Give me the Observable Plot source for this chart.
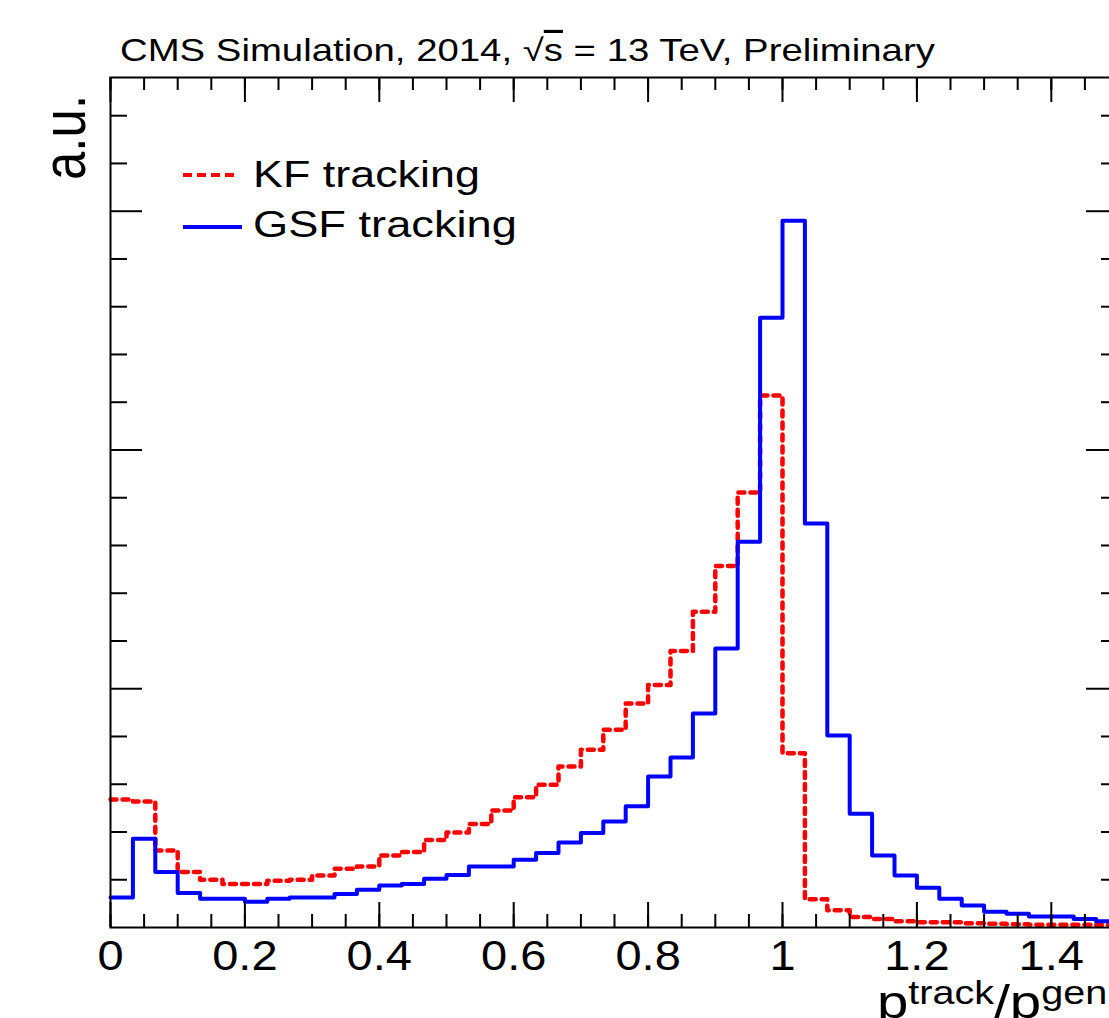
<!DOCTYPE html>
<html>
<head>
<meta charset="utf-8">
<script src="https://cdn.jsdelivr.net/npm/d3@7"></script>
<script src="https://cdn.jsdelivr.net/npm/@observablehq/plot@0.6"></script>
<style>
html, body { margin: 0; padding: 0; overflow: hidden; background: #fff; width: 1109px; height: 1018px; }
</style>
</head>
<body>
<div id="chart"></div>
<script>
// ---- data (arbitrary units) ----
const binWidth = 1 / 30;            // 45 bins over [0, 1.5]
const kfValues = [2.68, 2.64, 1.61, 1.16, 1.00, 0.91, 0.91, 0.98, 1.00, 1.09, 1.23, 1.28, 1.51,
  1.58, 1.83, 1.99, 2.17, 2.45, 2.73, 2.99,
  3.37, 3.72, 4.14, 4.69, 5.08, 5.79, 6.61, 7.57, 9.11, 11.14,
  3.65, 0.59, 0.36, 0.22, 0.18, 0.13, 0.11, 0.11, 0.09, 0.08, 0.07, 0.06, 0.06, 0.06, 0.05];
const gsfValues = [0.63, 1.86, 1.16, 0.72, 0.60, 0.60, 0.54, 0.60, 0.63, 0.63, 0.70, 0.79, 0.88,
  0.91, 1.02, 1.10, 1.28, 1.28, 1.42, 1.56, 1.78, 1.98, 2.22, 2.54,
  3.16, 3.56, 4.48, 5.84, 8.08, 12.77, 14.80, 8.46,
  4.02, 2.38, 1.51, 1.09, 0.83, 0.60, 0.46, 0.33, 0.29, 0.23, 0.23, 0.18, 0.13];
const seriesNames = ["KF tracking", "GSF tracking"];
const xMajorTicks = [0, 0.2, 0.4, 0.6, 0.8, 1.0, 1.2, 1.4];
const xMinorTicks = [0, 0.05, 0.1, 0.15, 0.2, 0.25, 0.3, 0.35, 0.4, 0.45, 0.5, 0.55, 0.6, 0.65, 0.7,
  0.75, 0.8, 0.85, 0.9, 0.95, 1.0, 1.05, 1.1, 1.15, 1.2, 1.25, 1.3, 1.35, 1.4, 1.45, 1.5];
const yMajorTicks = [5, 10, 15];
const yMinorTicks = [1, 2, 3, 4, 6, 7, 8, 9, 11, 12, 13, 14, 16, 17];

const toSteps = vals => vals.map((v, i) => ({x: i * binWidth, y: v}))
  .concat([{x: vals.length * binWidth, y: vals[vals.length - 1]}]);
const kfSteps = toSteps(kfValues);
const gsfSteps = toSteps(gsfValues);

const W = 1128, H = 1018, ML = 110, MR = 10, MT = 77, MB = 91;
const FW = W - ML - MR, FH = H - MT - MB;
const font = "'Liberation Sans', Arial, Helvetica, sans-serif";
const tk = {stroke: "black", strokeWidth: 2};

const plot = Plot.plot({
  width: W, height: H,
  marginLeft: ML, marginRight: MR, marginTop: MT, marginBottom: MB,
  style: {maxWidth: "none", fontFamily: font, fontSize: "42px", color: "black", background: "white", overflow: "visible"},
  x: {domain: [0, 1.5], ticks: xMajorTicks, tickSize: 0, tickPadding: 13, label: null, tickFormat: d => String(d)},
  y: {domain: [0, 17.8], axis: null},
  marks: [
    Plot.line(kfSteps, {x: "x", y: "y", curve: "step-after", stroke: "#ff0000", strokeWidth: 4.5, strokeDasharray: "6,6"}),
    Plot.line(gsfSteps, {x: "x", y: "y", curve: "step-after", stroke: "#0000ff", strokeWidth: 4}),
    // bottom ticks
    Plot.tickX(xMinorTicks, {x: d => d, insetTop: FH - 13, ...tk}),
    Plot.tickX(xMajorTicks, {x: d => d, insetTop: FH - 25, ...tk}),
    // top ticks
    Plot.tickX(xMinorTicks, {x: d => d, insetBottom: FH - 13, ...tk}),
    Plot.tickX(xMajorTicks, {x: d => d, insetBottom: FH - 25, ...tk}),
    // left ticks
    Plot.tickY(yMinorTicks, {y: d => d, insetRight: FW - 17, ...tk}),
    Plot.tickY(yMajorTicks, {y: d => d, insetRight: FW - 32, ...tk}),
    // right ticks
    Plot.tickY(yMinorTicks, {y: d => d, insetLeft: FW - 17, ...tk}),
    Plot.tickY(yMajorTicks, {y: d => d, insetLeft: FW - 32, ...tk}),
    Plot.frame({stroke: "black", strokeWidth: 2})
  ]
});
document.getElementById("chart").appendChild(plot);

// stretch tick labels horizontally (as in the reference)
plot.querySelectorAll('[aria-label="x-axis tick label"] text').forEach(t => {
  const tr = t.getAttribute("transform");
  if (tr) t.setAttribute("transform", `${tr} scale(1.12,1)`);
});

const svg = d3.select(plot);
const g = svg.append("g").attr("font-family", font).attr("fill", "black").attr("text-anchor", "start");

function stretchedText(x, y, size, targetWidth, build) {
  const t = g.append("text").attr("font-size", size).attr("text-anchor", "start");
  build(t);
  const w = t.node().getComputedTextLength();
  const s = targetWidth ? targetWidth / w : 1.2;
  t.attr("transform", `translate(${x},${y}) scale(${s},1)`);
  return t;
}

// title
stretchedText(120, 61, 31, 815, t => {
  t.append("tspan").text("CMS Simulation, 2014, √");
  t.append("tspan").style("text-decoration", "overline").text("s");
  t.append("tspan").text(" = 13 TeV, Preliminary");
});

// y title
g.append("text").attr("font-size", 51).attr("text-anchor", "start")
  .attr("transform", "translate(85,180) scale(1.2,1) rotate(-90)").text("a.u.");

// x title p^track / p^gen (right-aligned at the axis end, cropped by the window as in the reference)
{
  const t = g.append("text").attr("font-size", 47).attr("text-anchor", "start")
    .attr("transform", "translate(877,1018) scale(1.2,1)");
  t.append("tspan").text("p");
  t.append("tspan").attr("font-size", 33).attr("dy", -14).text("track");
  t.append("tspan").attr("dy", 14).text("/p");
  t.append("tspan").attr("font-size", 33).attr("dy", -14).text("gen");
}

// legend
g.append("line").attr("x1", 183).attr("x2", 237).attr("y1", 175).attr("y2", 175)
  .attr("stroke", "#ff0000").attr("stroke-width", 4).attr("stroke-dasharray", "9,5");
g.append("line").attr("x1", 183).attr("x2", 242).attr("y1", 227).attr("y2", 227)
  .attr("stroke", "#0000ff").attr("stroke-width", 4);
stretchedText(253, 187, 37, 227, t => t.text(seriesNames[0]));
stretchedText(253, 237, 37, 264, t => t.text(seriesNames[1]));
</script>
</body>
</html>
